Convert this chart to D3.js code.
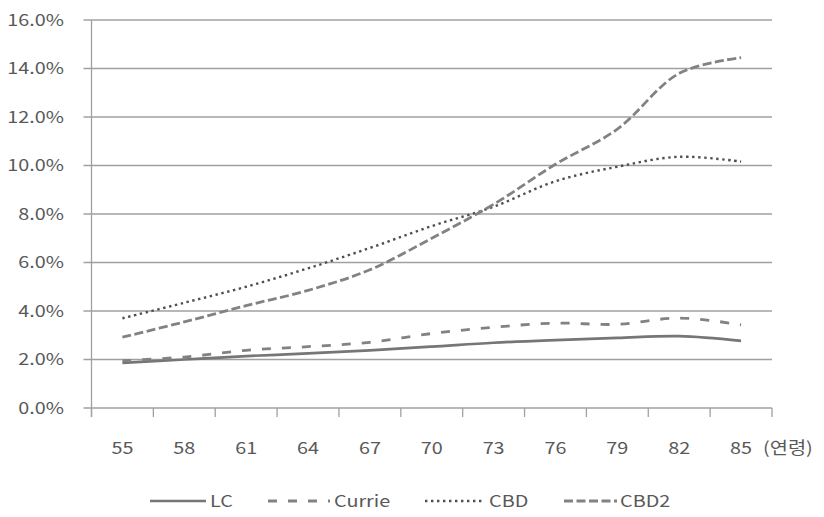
<!DOCTYPE html>
<html><head><meta charset="utf-8">
<script src="https://cdn.jsdelivr.net/npm/d3@7"></script>
<style>
html,body{margin:0;padding:0;background:#fff;}
svg{display:block;}
text{font-family:"Noto Sans CJK KR","Noto Sans",sans-serif;fill:#595959;}
</style></head>
<body>
<svg id="chart" width="824" height="517"></svg>
<script>
const categories = ["55","58","61","64","67","70","73","76","79","82","85"];
const yTicks = [0,2,4,6,8,10,12,14,16];
const seriesNames = ["LC","Currie","CBD","CBD2"];
const LC     = [1.86,2.00,2.14,2.25,2.38,2.53,2.69,2.80,2.89,2.96,2.77];
const Currie = [1.95,2.10,2.38,2.53,2.71,3.07,3.33,3.50,3.45,3.71,3.43];
const CBD    = [3.70,4.34,5.00,5.76,6.60,7.50,8.30,9.35,9.95,10.36,10.16];
const CBD2   = [2.92,3.55,4.22,4.85,5.70,7.00,8.40,10.05,11.50,13.80,14.45];
const xUnit = "(연령)";

const styles = {
  LC:     {color:"#767676", width:2.7, dash:null},
  Currie: {color:"#828282", width:2.8, dash:"9,11"},
  CBD:    {color:"#4f4f4f", width:2.4, dash:"2.4,3.6"},
  CBD2:   {color:"#828282", width:2.8, dash:"9,3.5"}
};
const data = {LC, Currie, CBD, CBD2};

const svg = d3.select("#chart");
const pL = 91.5, pR = 772, pT = 20, pB = 408;
const x = d3.scaleBand().domain(categories).range([pL,pR]).paddingInner(0).paddingOuter(0);
const y = d3.scaleLinear().domain([0,16]).range([pB,pT]);
const gridColor = "#a0a0a0";
const SX = 1.2;

// gridlines
svg.append("g").selectAll("line").data(yTicks).join("line")
  .attr("x1", pL-8).attr("x2", pR)
  .attr("y1", d=>y(d)).attr("y2", d=>y(d))
  .attr("stroke", gridColor).attr("stroke-width",1.3);

// y axis line
svg.append("line").attr("x1",pL).attr("x2",pL).attr("y1",pT).attr("y2",pB+9)
  .attr("stroke",gridColor).attr("stroke-width",1.3);

// x ticks at band boundaries
const edges = categories.map(c=>x(c)).concat([x(categories[categories.length-1])+x.bandwidth()]);
svg.append("g").selectAll("line").data(edges).join("line")
  .attr("x1",d=>d).attr("x2",d=>d).attr("y1",pB).attr("y2",pB+9)
  .attr("stroke",gridColor).attr("stroke-width",1.3);

// y labels
svg.append("g").selectAll("text").data(yTicks).join("text")
  .attr("transform", d=>`translate(${64},${y(d)}) scale(${SX},1)`)
  .attr("text-anchor","end").attr("dy","0.35em")
  .style("font-size","16.5px")
  .text(d=>d.toFixed(1)+"%");

// x labels
svg.append("g").selectAll("text").data(categories).join("text")
  .attr("transform", d=>`translate(${x(d)+x.bandwidth()/2},${448}) scale(${SX},1)`)
  .attr("text-anchor","middle").attr("dy","0.35em")
  .style("font-size","16.5px")
  .text(d=>d);
svg.append("text")
  .attr("transform", `translate(${763},${448}) scale(${SX},1)`)
  .attr("text-anchor","start").attr("dy","0.35em")
  .style("font-size","16.5px")
  .text(xUnit);

// lines
const line = d3.line()
  .x((d,i)=>x(categories[i])+x.bandwidth()/2)
  .y(d=>y(d))
  .curve(d3.curveCatmullRom.alpha(0.5));
seriesNames.forEach(n=>{
  const s = styles[n];
  svg.append("path").datum(data[n])
    .attr("d", line).attr("fill","none")
    .attr("stroke", s.color).attr("stroke-width", s.width)
    .attr("stroke-dasharray", s.dash)
    .attr("stroke-linejoin","round");
});

// legend
const legendY = 501;
const legendItems = [
  {n:"LC", x1:150, x2:206, tx:210},
  {n:"Currie", x1:268, x2:330, tx:334},
  {n:"CBD", x1:425, x2:485, tx:489},
  {n:"CBD2", x1:564, x2:617, tx:620}
];
const lg = svg.append("g");
legendItems.forEach(it=>{
  const s = styles[it.n];
  lg.append("line").attr("x1",it.x1).attr("x2",it.x2).attr("y1",legendY).attr("y2",legendY)
    .attr("stroke",s.color).attr("stroke-width",s.width).attr("stroke-dasharray",s.dash);
  lg.append("text")
    .attr("transform",`translate(${it.tx},${legendY}) scale(${SX},1)`)
    .attr("dy","0.35em").style("font-size","16.5px").text(it.n);
});
</script>
</body></html>
